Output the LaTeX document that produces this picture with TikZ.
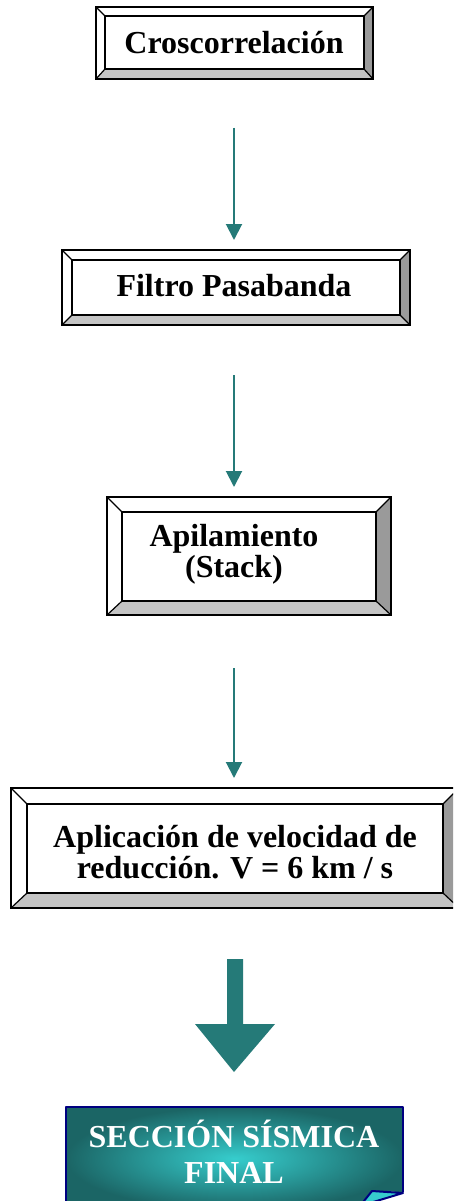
\documentclass[tikz,border=0pt]{standalone}
\usepackage{fontspec}
\setmainfont{Liberation Serif}
\definecolor{bevdark}{HTML}{9A9A9A}
\definecolor{bevlight}{HTML}{C4C4C4}
\definecolor{arrteal}{HTML}{257A78}
\definecolor{boxnavy}{HTML}{000080}
\definecolor{tealdark}{HTML}{1B6565}
\definecolor{tealmid}{HTML}{36CDCD}
\tikzset{
  bevline/.style={line width=1.2pt},
  outerline/.style={line width=2.2pt},
  innerline/.style={line width=1.6pt},
  boxtext/.style={inner sep=0pt, align=center, font=\fontsize{32}{31}\selectfont\bfseries},
  fintext/.style={inner sep=0pt, align=center, text=white, font=\fontsize{32}{36}\selectfont\bfseries},
  thinarrow/.style={draw=arrteal, line width=2pt, -{Triangle[width=16pt,length=16pt]}, fill=arrteal},
}
\usetikzlibrary{arrows.meta}
\newcommand\bevelbox[8]{%
 \fill[white] (#1,#2) -- (#3,#2) -- (#7,#6) -- (#5,#6) -- cycle;
 \fill[white] (#1,#2) -- (#5,#6) -- (#5,#8) -- (#1,#4) -- cycle;
 \fill[bevdark] (#3,#2) -- (#3,#4) -- (#7,#8) -- (#7,#6) -- cycle;
 \fill[bevlight] (#1,#4) -- (#3,#4) -- (#7,#8) -- (#5,#8) -- cycle;
 \draw[bevline] (#1,#2) -- (#5,#6) (#3,#2) -- (#7,#6) (#1,#4) -- (#5,#8) (#3,#4) -- (#7,#8);
 \draw[outerline] (#1,#2) rectangle (#3,#4);
 \draw[innerline] (#5,#6) rectangle (#7,#8);
}
\begin{document}
\begin{tikzpicture}[x=1pt,y=-1pt]
\useasboundingbox (0,0) rectangle (453,1201);
\clip (0,0) rectangle (453,1201);
% boxes
\bevelbox{96}{7}{373}{79}{105}{16}{364}{69}
\node[boxtext, anchor=base] (b1) at (234,54) {Croscorrelación};
\bevelbox{62}{250}{410}{325}{72}{260}{400}{315}
\node[boxtext, anchor=base] (b2) at (234,296) {Filtro Pasabanda};
\bevelbox{107}{497}{391}{615}{122}{512}{376}{601}
\node[boxtext, anchor=base] (b3) at (234,577) {Apilamiento\\(Stack)};
\bevelbox{11}{788}{459}{908}{27}{804}{443}{893}
\node[boxtext, anchor=base] (b4) at (235,878) {Aplicación de velocidad de\\reducción. V = 6 km / s};
% thin arrows
\coordinate (a1s) at (234,128); \coordinate (a1e) at (234,240);
\coordinate (a2s) at (234,375); \coordinate (a2e) at (234,487);
\coordinate (a3s) at (234,668); \coordinate (a3e) at (234,778);
\draw[thinarrow] (a1s) -- (a1e);
\draw[thinarrow] (a2s) -- (a2e);
\draw[thinarrow] (a3s) -- (a3e);
% big arrow
\fill[arrteal] (227,959) -- (243,959) -- (243,1024) -- (275,1024) -- (234,1072) -- (195,1024) -- (227,1024) -- cycle;
% final box
\shade[inner color=tealmid, outer color=tealdark] (66,1107) -- (403,1107) -- (403,1192) -- (372,1191) -- (360,1210) -- (66,1210) -- cycle;
\draw[boxnavy, line width=2pt, line join=round] (66,1210) -- (66,1107) -- (403,1107) -- (403,1192);
\filldraw[fill=tealmid, draw=boxnavy, line width=2pt, line join=round] (372,1191) -- (403,1193) -- (360,1206) -- cycle;
\node[fintext, anchor=base] (fin) at (234,1183) {SECCIÓN SÍSMICA\\FINAL};
\end{tikzpicture}
\end{document}
